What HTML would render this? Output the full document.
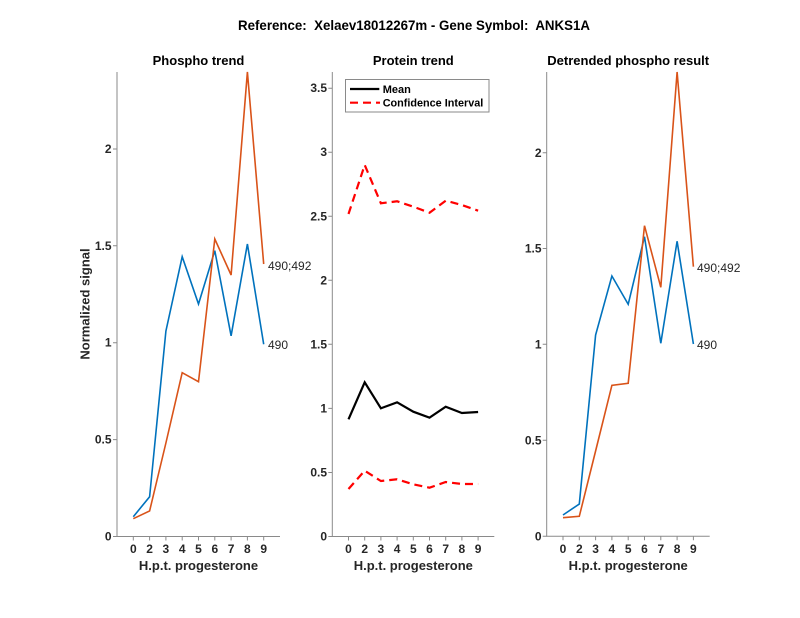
<!DOCTYPE html>
<html><head><meta charset="utf-8"><style>
html,body{margin:0;padding:0;background:#fff;}
svg{display:block;}
text{font-family:"Liberation Sans",Arial,sans-serif;fill:#262626;}
.b{font-weight:bold;}
</style></head><body>
<svg width="800" height="618" viewBox="0 0 800 618" xmlns="http://www.w3.org/2000/svg">
<rect width="800" height="618" fill="#fff"/>
<text x="238" y="30" class="b" font-size="14" textLength="352" lengthAdjust="spacingAndGlyphs" xml:space="preserve" style="fill:#000;white-space:pre">Reference:  Xelaev18012267m - Gene Symbol:  ANKS1A</text>

<!-- Panel 1 -->
<g>
<text x="198.5" y="65" class="b" font-size="13" text-anchor="middle" style="fill:#000">Phospho trend</text>
<g stroke="#8a8a8a" stroke-width="1" fill="none">
<path d="M117,72V536.5H280"/>
<path d="M117,536.5h-4M117,439.6h-4M117,342.7h-4M117,245.8h-4M117,149h-4"/>
<path d="M133.3,536.5v4M149.6,536.5v4M165.9,536.5v4M182.2,536.5v4M198.5,536.5v4M214.8,536.5v4M231.1,536.5v4M247.4,536.5v4M263.7,536.5v4"/>
</g>
<g font-size="12" class="b" text-anchor="end">
<text x="111.5" y="540.5">0</text><text x="111.5" y="443.6">0.5</text><text x="111.5" y="346.7">1</text><text x="111.5" y="249.8">1.5</text><text x="111.5" y="153">2</text>
</g>
<g font-size="12" class="b" text-anchor="middle">
<text x="133.3" y="553">0</text><text x="149.6" y="553">2</text><text x="165.9" y="553">3</text><text x="182.2" y="553">4</text><text x="198.5" y="553">5</text><text x="214.8" y="553">6</text><text x="231.1" y="553">7</text><text x="247.4" y="553">8</text><text x="263.7" y="553">9</text>
</g>
<text x="198.5" y="570" class="b" font-size="13" text-anchor="middle">H.p.t. progesterone</text>
<text transform="translate(89.5,304) rotate(-90)" class="b" font-size="13" text-anchor="middle">Normalized signal</text>
<polyline fill="none" stroke="#0072BD" stroke-width="1.6" stroke-linejoin="miter" points="133.3,516.7 149.6,496.8 165.9,331.1 182.2,256.7 198.5,304 214.8,250.7 231.1,335.8 247.4,244 263.7,344.3"/>
<polyline fill="none" stroke="#D95319" stroke-width="1.6" points="133.3,518.7 149.6,511 165.9,443 182.2,372.7 198.5,381.7 214.8,239 231.1,275 247.4,72 263.7,264"/>
<text x="268" y="270" font-size="12">490;492</text>
<text x="268" y="349" font-size="12">490</text>
</g>

<!-- Panel 2 -->
<g>
<text x="413.3" y="65" class="b" font-size="13" text-anchor="middle" style="fill:#000">Protein trend</text>
<g stroke="#8a8a8a" stroke-width="1" fill="none">
<path d="M332.3,72V536.5H494.3"/>
<path d="M332.3,536.5h-4M332.3,472.5h-4M332.3,408.4h-4M332.3,344.3h-4M332.3,280.3h-4M332.3,216.3h-4M332.3,152.2h-4M332.3,88.2h-4"/>
<path d="M348.5,536.5v4M364.7,536.5v4M380.9,536.5v4M397.1,536.5v4M413.3,536.5v4M429.5,536.5v4M445.7,536.5v4M461.9,536.5v4M478.1,536.5v4"/>
</g>
<g font-size="12" class="b" text-anchor="end">
<text x="327" y="540.5">0</text><text x="327" y="476.5">0.5</text><text x="327" y="412.4">1</text><text x="327" y="348.3">1.5</text><text x="327" y="284.3">2</text><text x="327" y="220.3">2.5</text><text x="327" y="156.2">3</text><text x="327" y="92.2">3.5</text>
</g>
<g font-size="12" class="b" text-anchor="middle">
<text x="348.5" y="553">0</text><text x="364.7" y="553">2</text><text x="380.9" y="553">3</text><text x="397.1" y="553">4</text><text x="413.3" y="553">5</text><text x="429.5" y="553">6</text><text x="445.7" y="553">7</text><text x="461.9" y="553">8</text><text x="478.1" y="553">9</text>
</g>
<text x="413.3" y="570" class="b" font-size="13" text-anchor="middle">H.p.t. progesterone</text>
<polyline fill="none" stroke="#000" stroke-width="2.2" points="348.5,419.3 364.7,382.3 380.9,408.3 397.1,402.3 413.3,411.7 429.5,417.7 445.7,406.7 461.9,413 478.1,412"/>
<polyline fill="none" stroke="#FF0000" stroke-width="2.2" stroke-dasharray="8,5" points="348.5,489 364.7,470.7 380.9,481 397.1,479.3 413.3,484.3 429.5,487.7 445.7,482 461.9,484 478.1,484"/>
<polyline fill="none" stroke="#FF0000" stroke-width="2.2" stroke-dasharray="8,5" points="348.5,214 364.7,165 380.9,203.3 397.1,201.3 413.3,206.7 429.5,212.7 445.7,200.7 461.9,205 478.1,210.7"/>
<rect x="345.5" y="79.5" width="143.5" height="32.5" fill="#fff" stroke="#8a8a8a" stroke-width="1"/>
<line x1="350" y1="89" x2="379.3" y2="89" stroke="#000" stroke-width="2.2"/>
<line x1="350" y1="102.7" x2="380" y2="102.7" stroke="#FF0000" stroke-width="2.2" stroke-dasharray="8,5"/>
<text x="382.7" y="93" font-size="11" class="b" style="fill:#000">Mean</text>
<text x="382.7" y="106.7" font-size="11" class="b" textLength="100.6" lengthAdjust="spacingAndGlyphs" style="fill:#000">Confidence Interval</text>
</g>

<!-- Panel 3 -->
<g>
<text x="628.2" y="65" class="b" font-size="13" text-anchor="middle" style="fill:#000">Detrended phospho result</text>
<g stroke="#8a8a8a" stroke-width="1" fill="none">
<path d="M546.7,72V536.3H709.7"/>
<path d="M546.7,536.3h-4M546.7,440.3h-4M546.7,344.3h-4M546.7,248.5h-4M546.7,152.8h-4"/>
<path d="M563,536.3v4M579.3,536.3v4M595.6,536.3v4M611.9,536.3v4M628.2,536.3v4M644.5,536.3v4M660.8,536.3v4M677.1,536.3v4M693.4,536.3v4"/>
</g>
<g font-size="12" class="b" text-anchor="end">
<text x="541.5" y="540.3">0</text><text x="541.5" y="444.3">0.5</text><text x="541.5" y="348.3">1</text><text x="541.5" y="252.5">1.5</text><text x="541.5" y="156.8">2</text>
</g>
<g font-size="12" class="b" text-anchor="middle">
<text x="563" y="553">0</text><text x="579.3" y="553">2</text><text x="595.6" y="553">3</text><text x="611.9" y="553">4</text><text x="628.2" y="553">5</text><text x="644.5" y="553">6</text><text x="660.8" y="553">7</text><text x="677.1" y="553">8</text><text x="693.4" y="553">9</text>
</g>
<text x="628.2" y="570" class="b" font-size="13" text-anchor="middle">H.p.t. progesterone</text>
<polyline fill="none" stroke="#0072BD" stroke-width="1.6" points="563,515 579.3,504 595.6,335 611.9,276 628.2,304.3 644.5,236.7 660.8,343.3 677.1,241.3 693.4,344"/>
<polyline fill="none" stroke="#D95319" stroke-width="1.6" points="563,517.7 579.3,516.3 595.6,451 611.9,385.3 628.2,383.3 644.5,225.7 660.8,287.3 677.1,72 693.4,266.7"/>
<text x="697" y="272" font-size="12">490;492</text>
<text x="697" y="349" font-size="12">490</text>
</g>
</svg>
</body></html>
